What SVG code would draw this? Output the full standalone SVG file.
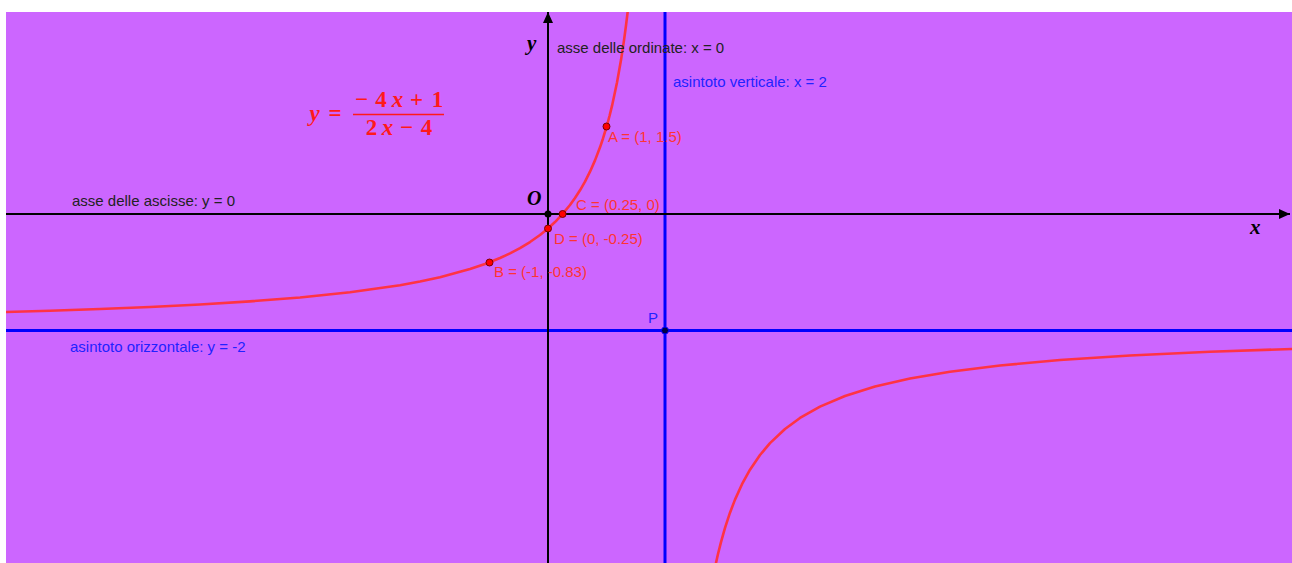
<svg xmlns="http://www.w3.org/2000/svg" width="1292" height="563" viewBox="0 0 1292 563">
<style>
.lbl{font-family:"Liberation Sans",Arial,sans-serif;font-size:15px}
.blk{fill:#222}
.blu{fill:#2222ff}
.red{fill:#ff3333}
.ax{stroke:#000;stroke-width:2;fill:none}
.asy{stroke:#0000ff;stroke-width:3;fill:none}
.crv{stroke:#ff3344;stroke-width:2.6;fill:none;stroke-linejoin:round;stroke-linecap:round}
.pt{fill:#ff0000;stroke:#7a0000;stroke-width:1}
.mi{font-family:"Liberation Serif","Times New Roman",serif;font-weight:bold;font-style:italic}
.fm{font-family:"Liberation Serif","Times New Roman",serif;font-weight:bold;font-size:23px;fill:#ff1a1a;text-anchor:middle}
</style>
<defs>
<clipPath id="plot"><rect x="6" y="12" width="1286" height="551"/></clipPath>
<marker id="arr" viewBox="0 0 11 10" refX="11" refY="5" markerWidth="11" markerHeight="10" markerUnits="userSpaceOnUse" orient="auto">
<path d="M0,0 L11,5 L0,10 Z" fill="#000"/>
</marker>
</defs>
<rect id="background" x="6" y="12" width="1286" height="551" fill="#cc66ff"/>
<g id="plot-area" clip-path="url(#plot)">
<g id="asymptotes">
<line class="asy" x1="665" y1="12" x2="665" y2="563"/>
<line class="asy" x1="6" y1="330.5" x2="1292" y2="330.5"/>
</g>
<g id="axes">
<line class="ax" x1="6" y1="214" x2="1290" y2="214" marker-end="url(#arr)"/>
<line class="ax" x1="548" y1="563" x2="548" y2="12" marker-end="url(#arr)"/>
</g>
<g id="curve">
<polyline class="crv" points="6,311.98 50,310.69 100,308.98 150,306.94 200,304.46 250,301.38 300,297.46 350,292.30 400,285.19 420,281.53 440,277.22 470,269.10 485,264.02 500,258.03 510,253.38 520,248.10 530,242.03 540,235.00 548,228.50 555,222.04 562,214.70 570,204.99 575,198.05 580,190.29 585,181.56 590,171.66 595,160.35 600,147.30 603,138.46 607,125.25 609.5,116.03 612,105.93 617,82.59 621,60.10 624,40.35 626,25.50 627.7,11.62 628,9"/>
<polyline class="crv" points="715.6,566 716,562.85 718,554.07 721,542.06 725,527.93 730,512.70 735,499.65 742,484.23 750,469.71 760,455.01 770,443.10 785,428.96 800,417.97 820,406.62 845,395.98 875,386.55 910,378.47 950,371.67 1000,365.45 1060,360.06 1130,355.54 1210,351.79 1292,348.94"/>
</g>
</g>
<g id="axis-labels">
<text class="mi" x="527" y="50" font-size="21" fill="#000">y</text>
<text class="mi" x="527" y="205" font-size="20" fill="#000">O</text>
<text class="mi" x="1250" y="234" font-size="21" fill="#000">x</text>
<text class="lbl blk" x="557" y="53">asse delle ordinate: x = 0</text>
<text class="lbl blk" x="72" y="206">asse delle ascisse: y = 0</text>
<text class="lbl blu" x="673" y="87">asintoto verticale: x = 2</text>
<text class="lbl blu" x="70" y="352">asintoto orizzontale: y = -2</text>
</g>
<g id="formula">
<text class="fm"><tspan x="314.5" y="121" font-style="italic">y</tspan><tspan x="335" y="121">=</tspan><tspan x="361.5" y="107">−</tspan><tspan x="381" y="107">4</tspan><tspan x="397.5" y="107" font-style="italic">x</tspan><tspan x="416.5" y="107">+</tspan><tspan x="437.5" y="107">1</tspan><tspan x="371.5" y="135">2</tspan><tspan x="387.5" y="135" font-style="italic">x</tspan><tspan x="406.5" y="135">−</tspan><tspan x="426.5" y="135">4</tspan></text>
<line x1="353" y1="114.5" x2="444" y2="114.5" stroke="#ff1a1a" stroke-width="1.5"/>
</g>
<g id="point-O"><circle cx="548" cy="214" r="3.5" fill="#000"/></g>
<g id="point-A"><circle class="pt" cx="606.5" cy="126.5" r="3.5"/><text class="lbl red" x="608" y="142">A = (1, 1.5)</text></g>
<g id="point-B"><circle class="pt" cx="489.5" cy="262.5" r="3.5"/><text class="lbl red" x="494" y="277">B = (-1, -0.83)</text></g>
<g id="point-C"><circle class="pt" cx="562.6" cy="214" r="3.5"/><text class="lbl red" x="576" y="210">C = (0.25, 0)</text></g>
<g id="point-D"><circle class="pt" cx="548" cy="228.5" r="3.5"/><text class="lbl red" x="554" y="244">D = (0, -0.25)</text></g>
<g id="point-P"><circle cx="665" cy="330.5" r="3.5" fill="#000044" stroke="#0000ff" stroke-width="1"/><text class="lbl blu" x="648" y="323">P</text></g>
</svg>
